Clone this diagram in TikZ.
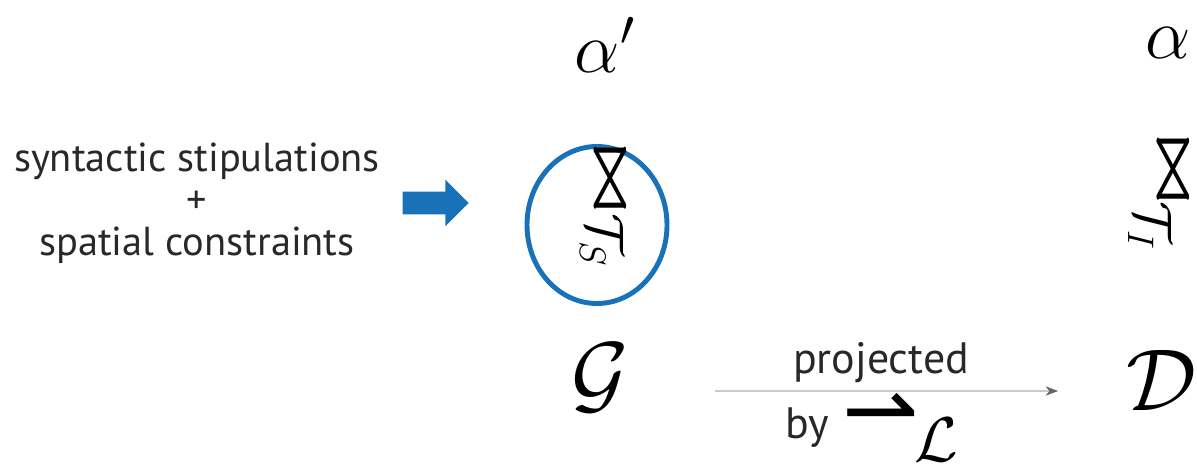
\documentclass[tikz,border=0pt]{standalone}
\usepackage{fix-cm}
\usepackage{amsmath,amssymb}
\usepackage{fontspec}
\usepackage{xcolor}
\usepackage{tikz}
\usetikzlibrary{arrows.meta,positioning,shapes.arrows,shapes.geometric}
\newfontfamily\labelfont{PT Sans}
\newfontfamily\symfont{DejaVu Sans}
\definecolor{Cblue}{RGB}{24,114,186}
\definecolor{Ctext}{RGB}{40,40,40}
\newcommand{\tallJoin}{\scalebox{1.5}[0.8]{$\Join$}}
\tikzset{
  sym/.style={inner sep=0pt, font=\fontsize{41}{44}\selectfont},
  cal/.style={inner sep=0pt, font=\fontsize{50}{54}\selectfont},
  bowtie/.style={inner sep=0pt, rotate=-90, font=\fontsize{48}{50}\selectfont},
  tsub/.style={inner sep=0pt, rotate=-90, font=\fontsize{30}{34}\selectfont},
  lbl/.style={text=Ctext, font=\labelfont\fontsize{23}{28}\selectfont},
}

\begin{document}
\begin{tikzpicture}
    \useasboundingbox (0,0) rectangle (23.94,9.3);
    % top row
    \node[sym] (alphap) at (12.1,8.4) {$\alpha'$};
    \node[sym] (alpha) at (23.36,8.45) {$\alpha$};
    % middle row
    \node[lbl, align=center] (stip) at (3.94,5.24) {syntactic stipulations\\[-4pt]+\\[-4pt]spatial constraints};
    \node[single arrow, fill=Cblue, minimum height=1.32cm, minimum width=0.92cm,
      inner xsep=0pt, inner ysep=0.22cm, single arrow head extend=0.24cm] (push) at (8.6,5.24) {};
    \node[draw=Cblue, line width=2.8pt, ellipse, minimum width=2.8cm, minimum height=3.14cm] (circ) at (11.94,4.8) {};
    \node[bowtie] (joinS) at (12.2,5.74) {\tallJoin};
    \node[tsub] (TS) at (12.04,4.5) {$\mathcal{T}_S$};
    \node[bowtie] (joinI) at (23.46,5.92) {\tallJoin};
    \node[tsub] (TI) at (23.0,4.78) {$\mathcal{T}_I$};
    % bottom row
    \node[cal] (G) at (12.0,1.74) {$\mathcal{G}$};
    \node[cal] (D) at (23.24,1.7) {$\mathcal{D}$};
    \draw[-{Stealth[length=2.5mm]}, thin, gray!80!black, shorten <=2.3cm, shorten >=2.08cm] ([yshift=-0.26cm]G.center) -- ([yshift=-0.22cm]D.center)
      node[lbl, font=\labelfont\fontsize{25}{30}\selectfont, midway, above=1pt] (proj) {projected};
    \node[lbl, font=\labelfont\fontsize{25}{30}\selectfont] (by) at (16.15,0.75) {by};
    \node[inner sep=0pt, anchor=base, font=\symfont\fontsize{52}{56}\selectfont] (harp) at (17.62,0.46) {⇀};
    \node[inner sep=0pt, font=\fontsize{36}{40}\selectfont] (L) at (18.72,0.5) {$\mathcal{L}$};
  \end{tikzpicture}
\end{document}
